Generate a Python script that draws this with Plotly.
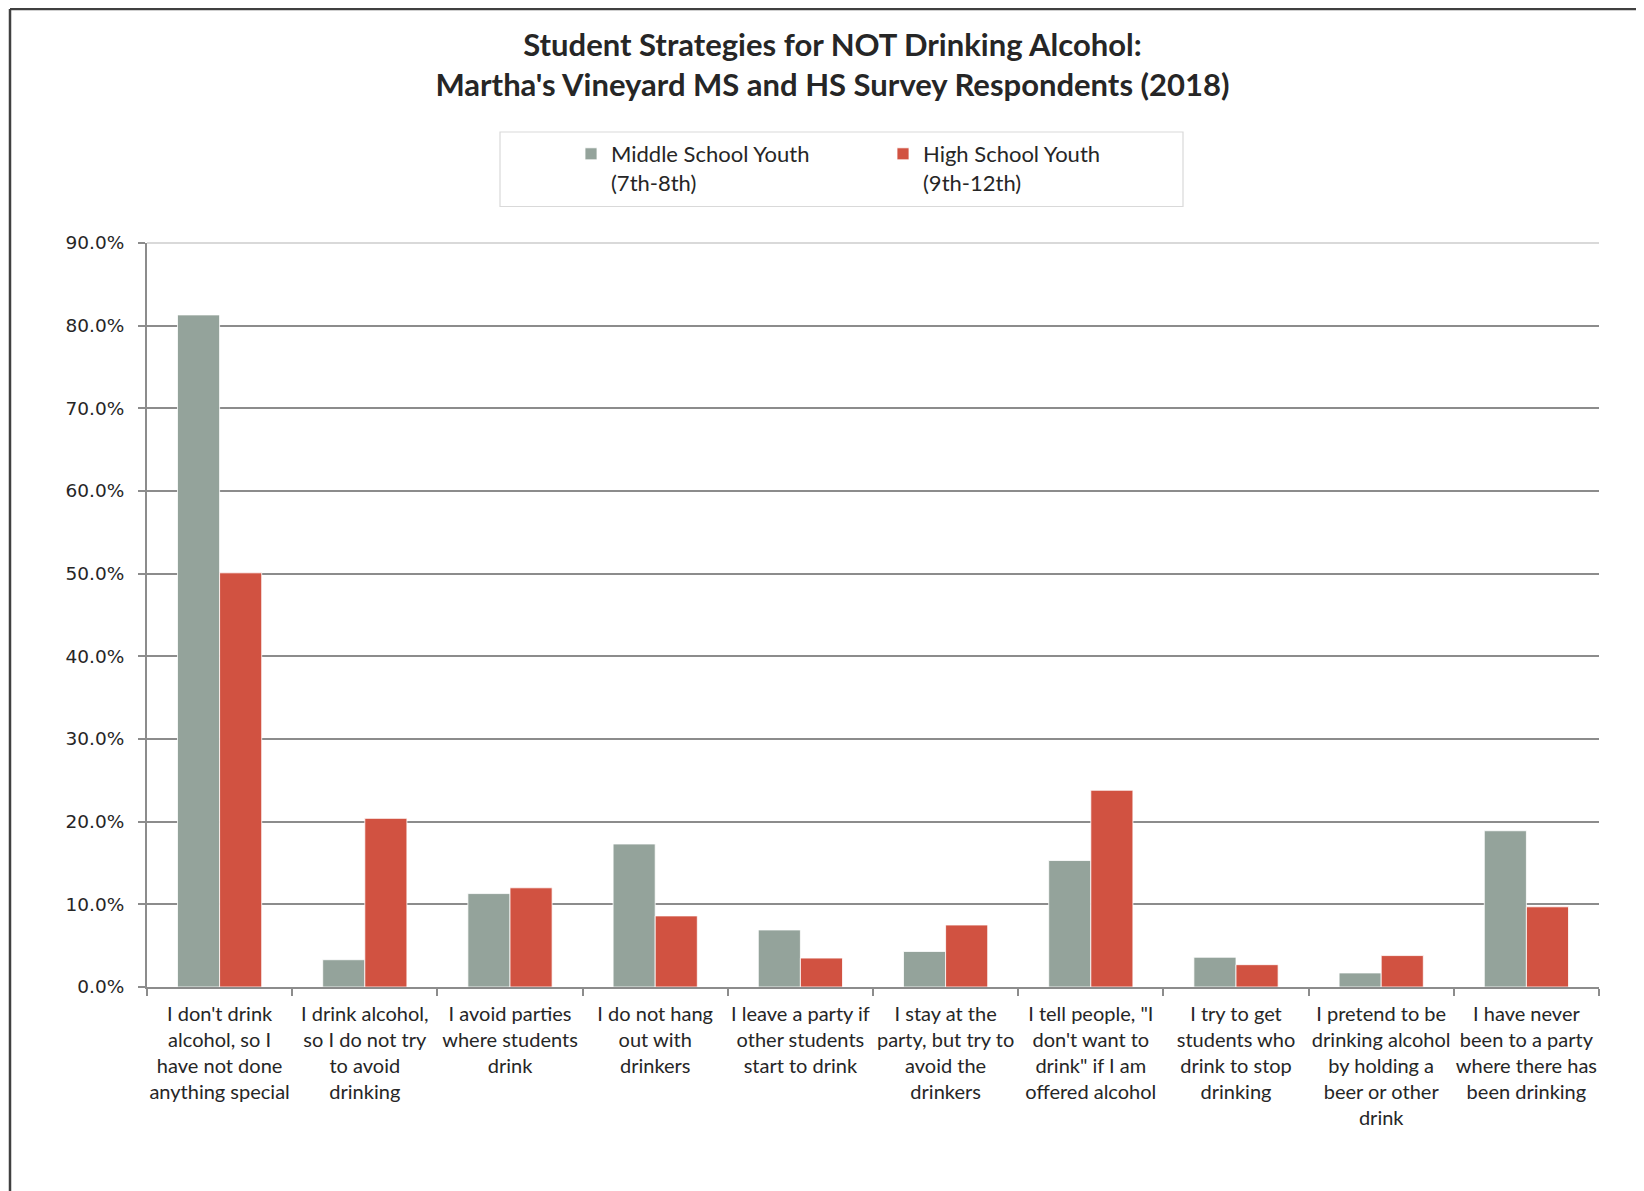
import plotly.graph_objects as go

categories = [
    "I don't drink<br>alcohol, so I<br>have not done<br>anything special",
    "I drink alcohol,<br>so I do not try<br>to avoid<br>drinking",
    "I avoid parties<br>where students<br>drink",
    "I do not hang<br>out with<br>drinkers",
    "I leave a party if<br>other students<br>start to drink",
    "I stay at the<br>party, but try to<br>avoid the<br>drinkers",
    "I tell people, \"I<br>don't want to<br>drink\" if I am<br>offered alcohol",
    "I try to get<br>students who<br>drink to stop<br>drinking",
    "I pretend to be<br>drinking alcohol<br>by holding a<br>beer or other<br>drink",
    "I have never<br>been to a party<br>where there has<br>been drinking",
]
middle_school = [81.3, 3.3, 11.3, 17.3, 6.9, 4.3, 15.3, 3.6, 1.7, 18.9]
high_school = [50.1, 20.4, 12.0, 8.6, 3.5, 7.5, 23.8, 2.7, 3.8, 9.7]
series_names = ["Middle School Youth<br>(7th-8th)", "High School Youth<br>(9th-12th)"]
y_ticks = [0, 10, 20, 30, 40, 50, 60, 70, 80, 90]
y_tick_labels = ["0.0%", "10.0%", "20.0%", "30.0%", "40.0%", "50.0%", "60.0%", "70.0%", "80.0%", "90.0%"]

GRAY = "#94A39B"
RED = "#D15241"
TEXT = "#262626"
AXIS = "#8C8C8C"
LABEL_FONT = "Lato, Open Sans, sans-serif"

fig = go.Figure()
fig.add_trace(go.Bar(x=categories, y=middle_school, name=series_names[0],
                     marker=dict(color=GRAY, line=dict(color="#FFFFFF", width=0.8))))
fig.add_trace(go.Bar(x=categories, y=high_school, name=series_names[1],
                     marker=dict(color=RED, line=dict(color="#FFFFFF", width=0.8))))

W, H = 1644, 1191
L, R, T, B = 139, 53, 235, 212
pw, ph = W - L - R, H - T - B


def px_x(x):
    return (x - L) / pw


def px_y(y):
    return 1 - (y - T) / ph


fig.update_layout(
    width=W, height=H,
    margin=dict(l=L, r=R, t=T, b=B),
    paper_bgcolor="white", plot_bgcolor="white",
    barmode="group", bargap=0.42, bargroupgap=0,
    title=dict(
        text="Student Strategies for NOT Drinking Alcohol:<br>Martha's Vineyard MS and HS Survey Respondents (2018)",
        x=0.5015, xanchor="center", y=1 - 47.5 / H, yanchor="middle",
        font=dict(family=LABEL_FONT, size=31, color=TEXT, weight="bold"),
    ),
    legend=dict(
        orientation="h", x=px_x(563), xanchor="left",
        y=px_y(125), yanchor="top",
        borderwidth=0, bgcolor="rgba(0,0,0,0)",
        font=dict(family=LABEL_FONT, size=22, color=TEXT),
        entrywidth=267, entrywidthmode="pixels", valign="top",
        itemwidth=30,
    ),
)

fig.update_xaxes(
    tickfont=dict(family=LABEL_FONT, size=20, color=TEXT),
    showline=True, linecolor=AXIS, linewidth=2,
    ticks="outside", tickson="boundaries", ticklen=7, tickcolor=AXIS, tickwidth=1.5,
    ticklabelstandoff=8,
    showgrid=False, tickangle=0,
)
fig.update_yaxes(
    range=[0, 90], tickvals=y_ticks, ticktext=y_tick_labels,
    tickfont=dict(family="DejaVu Sans", size=18.5, color=TEXT),
    showline=True, linecolor=AXIS, linewidth=2,
    ticks="outside", ticklen=7, tickcolor=AXIS, tickwidth=1.5, ticklabelstandoff=10,
    showgrid=True, gridcolor=AXIS, gridwidth=1.5, zeroline=False,
)

# light top gridline at 90%
fig.add_shape(type="line", xref="paper", yref="paper", x0=0, x1=1, y0=1, y1=1,
              line=dict(color="#D9D9D9", width=2), layer="below")

# legend box
fig.add_shape(type="rect", xref="paper", yref="paper",
              x0=px_x(492), x1=px_x(1175), y0=px_y(124), y1=px_y(198.5),
              line=dict(color="#D9D9D9", width=1.2), fillcolor="rgba(0,0,0,0)")

# outer frame (top and left edges of the original picture frame)
fig.add_shape(type="line", xref="paper", yref="paper",
              x0=px_x(2), x1=px_x(W), y0=px_y(1), y1=px_y(1),
              line=dict(color="#404040", width=2.5))
fig.add_shape(type="line", xref="paper", yref="paper",
              x0=px_x(2), x1=px_x(2), y0=px_y(1), y1=px_y(H),
              line=dict(color="#404040", width=2.5))

fig.write_html("out.html")
